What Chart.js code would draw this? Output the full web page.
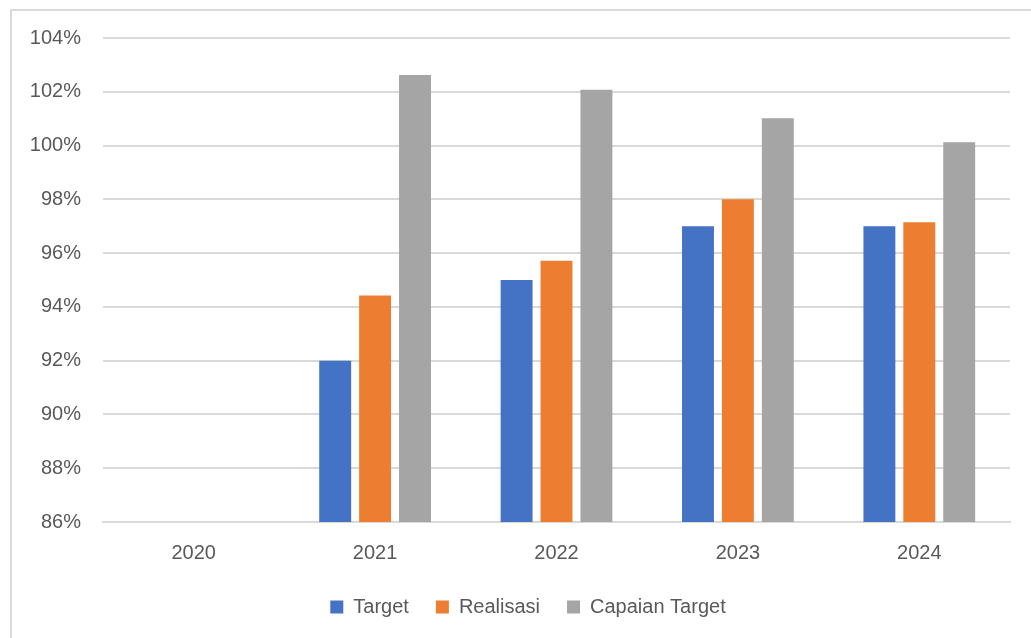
<!DOCTYPE html>
<html>
<head>
<meta charset="utf-8">
<script src="https://cdn.jsdelivr.net/npm/chart.js@4"></script>
<style>
  html, body { margin: 0; padding: 0; background: #fff; }
  #frame { position: absolute; left: 10px; top: 9px; width: 1040px; height: 660px; border: 2px solid #d9d9d9; box-sizing: border-box; }
  #wrap { position: absolute; left: 0; top: 0; width: 1031px; height: 638px; }
</style>
</head>
<body>
<div id="frame"></div>
<div id="wrap"><canvas id="chart" width="1031" height="638"></canvas></div>
<script>
// data
const tahun = ["2020", "2021", "2022", "2023", "2024"];
const target = [null, 92, 95, 97, 97];
const realisasi = [null, 94.42, 95.72, 98, 97.15];
const capaian = [null, 102.62, 102.08, 101.02, 100.12];
const yTicks = [86, 88, 90, 92, 94, 96, 98, 100, 102, 104];

const font = { family: "'Liberation Sans', Arial, sans-serif", size: 20 };
const abu = "#595959";

const ctx = document.getElementById("chart").getContext("2d");

// geser legenda sedikit ke kanan, seperti di gambar asli
const geserLegenda = {
  id: "geserLegenda",
  afterLayout(chart) {
    const lg = chart.legend;
    if (!lg) return;
    lg.left = 46;
    lg.top -= 6;
    lg.bottom -= 6;
  }
};

new Chart(ctx, {
  type: "bar",
  data: {
    labels: tahun,
    datasets: [
      { label: "Target", data: target, backgroundColor: "#4472c4" },
      { label: "Realisasi", data: realisasi, backgroundColor: "#ed7d31" },
      { label: "Capaian Target", data: capaian, backgroundColor: "#a5a5a5" }
    ]
  },
  options: {
    responsive: false,
    animation: false,
    categoryPercentage: 0.66,
    barPercentage: 0.8,
    layout: { padding: { top: 38, left: 0, right: 21, bottom: 5 } },
    plugins: {
      tooltip: { enabled: false },
      legend: {
        position: "bottom",
        labels: {
          font: font,
          color: abu,
          boxWidth: 13,
          boxHeight: 13,
          padding: 27
        }
      }
    },
    scales: {
      x: {
        grid: { display: false },
        border: { color: "#d9d9d9", width: 2 },
        ticks: { font: font, color: abu, padding: 11 }
      },
      y: {
        min: 86,
        max: 104,
        afterFit: s => { s.width = 103; },
        afterBuildTicks: s => { s.ticks = yTicks.map(v => ({ value: v })); },
        border: { display: false },
        grid: { color: "#d9d9d9", lineWidth: 2, drawTicks: false },
        ticks: {
          font: font,
          color: abu,
          padding: 22,
          callback: v => v + "%"
        }
      }
    }
  },
  plugins: [geserLegenda]
});
</script>
</body>
</html>
